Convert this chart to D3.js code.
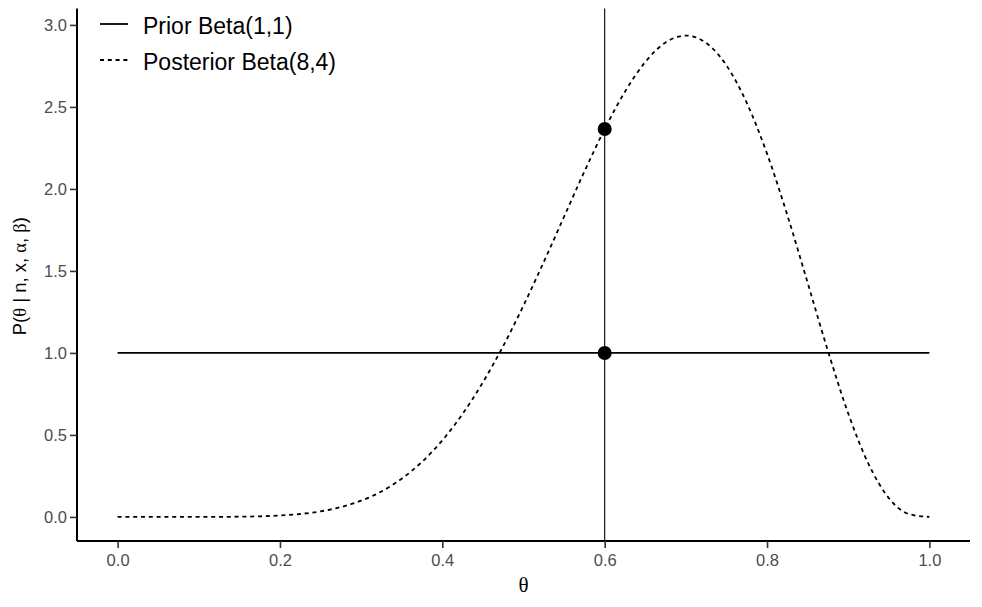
<!DOCTYPE html>
<html><head><meta charset="utf-8">
<script src="https://cdn.jsdelivr.net/npm/d3@7"></script>
<style>body{margin:0;background:#fff}</style>
</head><body>
<svg id="c" width="982" height="607"></svg>
<script>
// Data
const thetaGrid = [0,0.025,0.05,0.075,0.1,0.125,0.15,0.175,0.2,0.225,0.25,0.275,0.3,0.325,0.35,0.375,0.4,0.425,0.45,0.475,0.5,0.525,0.55,0.575,0.6,0.625,0.65,0.675,0.7,0.725,0.75,0.775,0.8,0.825,0.85,0.875,0.9,0.925,0.95,0.975,1];
const posteriorDensity = [0,0,0,0,0.0001,0.0004,0.0014,0.0037,0.0087,0.018,0.034,0.060,0.099,0.155,0.233,0.336,0.467,0.628,0.821,1.042,1.289,1.555,1.831,2.106,2.365,2.593,2.774,2.893,2.935,2.890,2.753,2.525,2.215,1.840,1.428,1.012,0.631,0.323,0.115,0.017,0];
const priorTheta = [0, 1];
const priorDensity = [1, 1];
const observedTheta = 0.6;
const pointValues = [1.0, 2.365];
const xTicks = [0.0,0.2,0.4,0.6,0.8,1.0];
const yTicks = [0.0,0.5,1.0,1.5,2.0,2.5,3.0];
const legendLabels = ["Prior Beta(1,1)", "Posterior Beta(8,4)"];

const svg = d3.select("#c");
const L = 77, R = 970, T = 11.5, B = 541;
const x = d3.scaleLinear().domain([-0.05, 1.05]).range([L, R]);
const y = d3.scaleLinear().domain([-0.14675, 3.08186]).range([B, T]);

const g = svg.append("g");

// posterior
const post = thetaGrid.map((t,i)=>[t, posteriorDensity[i]]);
g.append("path").datum(post)
  .attr("d", d3.line().x(d=>x(d[0])).y(d=>y(d[1])).curve(d3.curveMonotoneX))
  .attr("fill","none").attr("stroke","#000").attr("stroke-width",1.8)
  .attr("stroke-dasharray","4,3.8");

// prior
const pri = priorTheta.map((t,i)=>[t, priorDensity[i]]);
g.append("path").datum(pri)
  .attr("d", d3.line().x(d=>x(d[0])).y(d=>y(d[1])))
  .attr("fill","none").attr("stroke","#000").attr("stroke-width",1.8);

// vline
g.append("line").attr("x1",x(observedTheta)).attr("x2",x(observedTheta))
  .attr("y1",T-3).attr("y2",B).attr("stroke","#000").attr("stroke-width",1.1);

// points
g.selectAll("circle.pt").data(pointValues).join("circle")
  .attr("cx",x(observedTheta)).attr("cy",d=>y(d)).attr("r",7).attr("fill","#000");

// axes
const xAxis = d3.axisBottom(x).tickValues(xTicks).tickFormat(d3.format(".1f")).tickSize(7).tickSizeOuter(0);
const yAxis = d3.axisLeft(y).tickValues(yTicks).tickFormat(d3.format(".1f")).tickSize(7).tickSizeOuter(0);
const gx = svg.append("g").attr("transform",`translate(0,${B})`).call(xAxis);
const gy = svg.append("g").attr("transform",`translate(${L},0)`).call(yAxis);
[gx,gy].forEach(a=>{
  a.select(".domain").attr("stroke","#000").attr("stroke-width",2);
  a.selectAll(".tick line").attr("stroke","#333").attr("stroke-width",1.6);
  a.selectAll(".tick text").attr("fill","#4D4D4D").style("font-family","Liberation Sans, Arial, sans-serif").style("font-size","16.5px");
});
gx.select(".domain").attr("d",`M${L},0H${R}`);
gy.select(".domain").attr("d",`M0,${B}V${T-3}`);
gx.selectAll(".tick text").attr("dy",null).attr("y",25);
gy.selectAll(".tick text").attr("dy","0.35em").attr("x",-10);

// axis titles
svg.append("text").attr("x",(L+R)/2).attr("y",592).attr("text-anchor","middle")
  .style("font-family","Liberation Serif, Times New Roman, serif").style("font-size","21px").text("θ");
const yt = svg.append("text").attr("transform",`translate(26,${(T+B)/2}) rotate(-90)`).attr("text-anchor","middle")
  .style("font-family","Liberation Sans, Arial, sans-serif").style("font-size","18.5px");
const parts = [["P(",0],["θ",1],[" | n, x, ",0],["α",1],[", ",0],["β",1],[")",0]];
parts.forEach(p=>{
  yt.append("tspan").style("font-family", p[1] ? "Liberation Serif, serif" : null).text(p[0]);
});

// legend
const leg = svg.append("g");
legendLabels.forEach((lab,i)=>{
  const cy = 24 + i*36;
  leg.append("line").attr("x1",100).attr("x2",128).attr("y1",cy).attr("y2",cy)
    .attr("stroke","#000").attr("stroke-width",1.8).attr("stroke-dasharray", i===1 ? "4,3.8" : null);
  leg.append("text").attr("x",143).attr("y",cy+10)
    .style("font-family","Liberation Sans, Arial, sans-serif").style("font-size","23px").attr("fill","#000").text(lab);
});
</script>
</body></html>
